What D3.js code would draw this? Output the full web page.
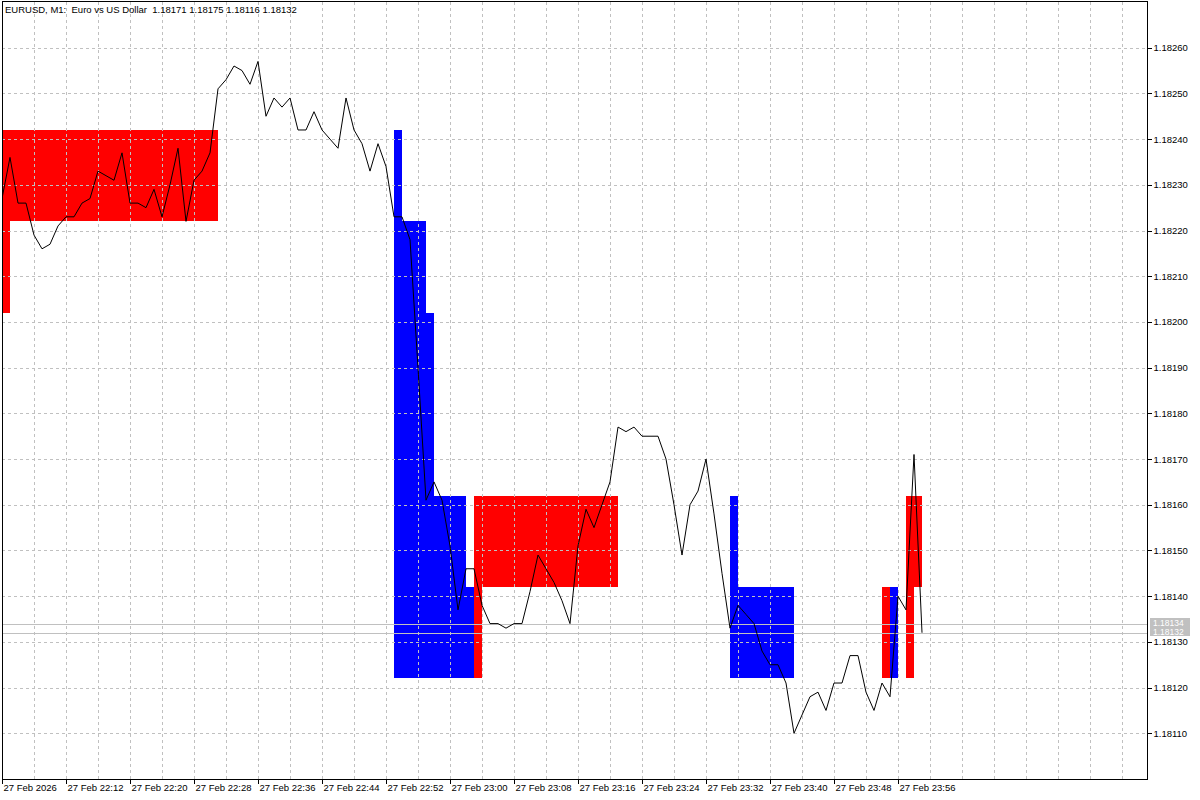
<!DOCTYPE html>
<html><head><meta charset="utf-8">
<script src="https://cdn.jsdelivr.net/npm/d3@7"></script>
<style>
html,body{margin:0;padding:0;background:#fff;}
svg{display:block;font-family:"Liberation Sans",Arial,sans-serif;}
</style></head><body>
<svg id="chart" width="1200" height="800"></svg>
<script>
// ---------- data ----------
const chartTitle = "EURUSD, M1:  Euro vs US Dollar  1.18171 1.18175 1.18116 1.18132";
const firstBar = "2026-02-27 22:04";
const closes = [
  1.18227,1.18236,1.18226,1.18226,1.18219,1.18216,1.18217,1.18221,1.18223,1.18223,
  1.18226,1.18227,1.18233,1.18232,1.18231,1.18237,1.18226,1.18226,1.18225,1.18229,
  1.18223,1.18230,1.18238,1.18222,1.18231,1.18233,1.18237,1.18251,1.18253,1.18256,
  1.18255,1.18252,1.18257,1.18245,1.18249,1.18247,1.18249,1.18242,1.18242,1.18246,
  1.18242,1.18240,1.18238,1.18249,1.18242,1.18239,1.18233,1.18239,1.18234,1.18223,
  1.18223,1.18218,1.18190,1.18161,1.18165,1.18161,1.18151,1.18137,1.18146,1.18146,
  1.18138,1.18134,1.18134,1.18133,1.18134,1.18134,1.18141,1.18149,1.18146,1.18143,
  1.18139,1.18134,1.18151,1.18159,1.18155,1.18160,1.18165,1.18177,1.18176,1.18177,
  1.18175,1.18175,1.18175,1.18170,1.18160,1.18149,1.18160,1.18163,1.18170,1.18158,
  1.18145,1.18133,1.18138,1.18136,1.18134,1.18128,1.18125,1.18125,1.18121,1.18110,
  1.18114,1.18118,1.18119,1.18115,1.18121,1.18121,1.18127,1.18127,1.18119,1.18115,
  1.18121,1.18118,1.18140,1.18137,1.18171,1.18132
];
const priceTicks = [1.18110,1.18120,1.18130,1.18140,1.18150,1.18160,1.18170,1.18180,
  1.18190,1.18200,1.18210,1.18220,1.18230,1.18240,1.18250,1.18260];
const priceMin = 1.18100, priceMax = 1.18270;
const askPrice = 1.18134, bidPrice = 1.18132;

const boxStarts = ["22:04","22:04","22:53","22:54","22:57","22:58","23:02","23:03","23:03","23:35","23:36","23:54","23:55","23:57","23:57"];
const boxEnds   = ["22:31","22:05","22:54","22:57","22:58","23:02","23:03","23:04","23:21","23:36","23:43","23:55","23:56","23:58","23:59"];
const boxHighs  = [1.18242,1.18242,1.18242,1.18222,1.18202,1.18162,1.18142,1.18142,1.18162,1.18162,1.18142,1.18142,1.18142,1.18162,1.18162];
const boxLows   = [1.18222,1.18202,1.18122,1.18122,1.18122,1.18122,1.18122,1.18122,1.18142,1.18122,1.18122,1.18122,1.18122,1.18122,1.18142];
const boxKinds  = ["up","up","down","down","down","down","down","up","up","down","down","up","down","up","up"];

// ---------- layout ----------
const W = 1200, H = 800;
const plot = {left: 2, top: 2, right: 1147, bottom: 779};
const barSpacing = 8;
const fontSize = "9.5px";
const colors = {up: "#ff0000", down: "#0000ff", grid: "#c0c0c0", line: "#000000", bidask: "#c0c0c0"};

const svg = d3.select("#chart");
const parse = d3.timeParse("%Y-%m-%d %H:%M");
const t0 = parse(firstBar);
const times = closes.map((_, i) => d3.timeMinute.offset(t0, i));
const tLast = times[times.length - 1];
const atTime = s => { const [h, m] = s.split(":").map(Number); const d = new Date(t0); d.setHours(h, m, 0, 0); return d; };

const x = d3.scaleTime().domain([t0, tLast]).range([plot.left, plot.left + (closes.length - 1) * barSpacing]);
const y = d3.scaleLinear().domain([priceMin, priceMax]).range([plot.bottom, plot.top]);

svg.append("rect").attr("width", W).attr("height", H).attr("fill", "#fff");

svg.append("defs").append("clipPath").attr("id", "clip")
  .append("rect").attr("x", plot.left).attr("y", plot.top)
  .attr("width", plot.right - plot.left).attr("height", plot.bottom - plot.top);

const g = svg.append("g").attr("clip-path", "url(#clip)");

// boxes
const boxes = boxStarts.map((s, i) => ({s: atTime(s), e: atTime(boxEnds[i]), hi: boxHighs[i], lo: boxLows[i], k: boxKinds[i]}));
g.selectAll("rect.box").data(boxes).join("rect").attr("class", "box")
  .attr("x", d => x(d.s)).attr("width", d => x(d.e) - x(d.s))
  .attr("y", d => y(d.hi)).attr("height", d => y(d.lo) - y(d.hi))
  .attr("fill", d => colors[d.k]).attr("shape-rendering", "crispEdges");

// grid
const maxBars = Math.floor((plot.right - plot.left) / barSpacing);
const gridTimes = d3.range(4, maxBars, 4).map(k => d3.timeMinute.offset(t0, k));
g.selectAll("line.vg").data(gridTimes).join("line").attr("class", "vg")
  .attr("x1", d => Math.round(x(d)) + 0.5).attr("x2", d => Math.round(x(d)) + 0.5)
  .attr("y1", plot.top).attr("y2", plot.bottom)
  .attr("stroke", colors.grid).attr("stroke-dasharray", "3,3").attr("shape-rendering", "crispEdges");
g.selectAll("line.hg").data(priceTicks).join("line").attr("class", "hg")
  .attr("y1", d => Math.round(y(d)) + 0.5).attr("y2", d => Math.round(y(d)) + 0.5)
  .attr("x1", plot.left).attr("x2", plot.right)
  .attr("stroke", colors.grid).attr("stroke-dasharray", "3,3").attr("shape-rendering", "crispEdges");

// bid / ask lines
g.selectAll("line.ba").data([askPrice, bidPrice]).join("line").attr("class", "ba")
  .attr("y1", d => Math.round(y(d)) + 0.5).attr("y2", d => Math.round(y(d)) + 0.5)
  .attr("x1", plot.left).attr("x2", plot.right)
  .attr("stroke", colors.bidask).attr("shape-rendering", "crispEdges");

// price line
const line = d3.line().x((d, i) => x(times[i])).y(d => y(d));
g.append("path").datum(closes).attr("d", line)
  .attr("fill", "none").attr("stroke", colors.line).attr("stroke-width", 1);

// frame
svg.append("rect").attr("x", plot.left + 0.5).attr("y", plot.top - 0.5)
  .attr("width", plot.right - plot.left).attr("height", plot.bottom - plot.top + 0.5)
  .attr("fill", "none").attr("stroke", "#000").attr("shape-rendering", "crispEdges");

// right axis
const yAxis = d3.axisRight(y).tickValues(priceTicks).tickSize(4).tickPadding(2).tickFormat(d3.format(".5f"));
const ya = svg.append("g").attr("transform", `translate(${plot.right + 0.5},0)`).call(yAxis);
ya.select(".domain").remove();
ya.selectAll("line").attr("stroke", "#000").attr("shape-rendering", "crispEdges");
ya.selectAll("text").attr("font-size", fontSize).attr("fill", "#000").attr("font-family", '"Liberation Sans",Arial,sans-serif');

// bid/ask labels
const baLab = svg.append("g").selectAll("g").data([askPrice, bidPrice]).join("g")
  .attr("transform", (d, i) => `translate(${plot.right + 3},${Math.round(y(d)) - 6})`);
baLab.append("rect").attr("x", 0).attr("y", 0).attr("width", 40).attr("height", 9).attr("fill", colors.bidask);
baLab.append("text").attr("x", 3).attr("y", 8).attr("fill", "#fff").attr("font-size", "8.5px").text(d => d3.format(".5f")(d));

// bottom axis
const labelTimes = times.filter((d, i) => i % 8 === 0);
const xAxis = d3.axisBottom(x).tickValues(labelTimes).tickSize(4)
  .tickFormat((d, i) => i === 0 ? d3.timeFormat("%-d %b %Y")(d) : d3.timeFormat("%-d %b %H:%M")(d));
const xa = svg.append("g").attr("transform", `translate(0,${plot.bottom + 0.5})`).call(xAxis);
xa.select(".domain").remove();
xa.selectAll(".tick").attr("transform", d => `translate(${Math.round(x(d)) + 0.5},0)`);
xa.selectAll("line").attr("stroke", "#000").attr("shape-rendering", "crispEdges");
xa.selectAll("text").attr("text-anchor", "start").attr("x", 1).attr("y", 5).attr("dy", "0.71em")
  .attr("font-size", fontSize).attr("fill", "#000").attr("font-family", '"Liberation Sans",Arial,sans-serif');

// title
svg.append("text").attr("x", 5).attr("y", 13).attr("font-size", fontSize)
  .style("white-space", "pre").attr("fill", "#000").text(chartTitle);
</script>
</body></html>
